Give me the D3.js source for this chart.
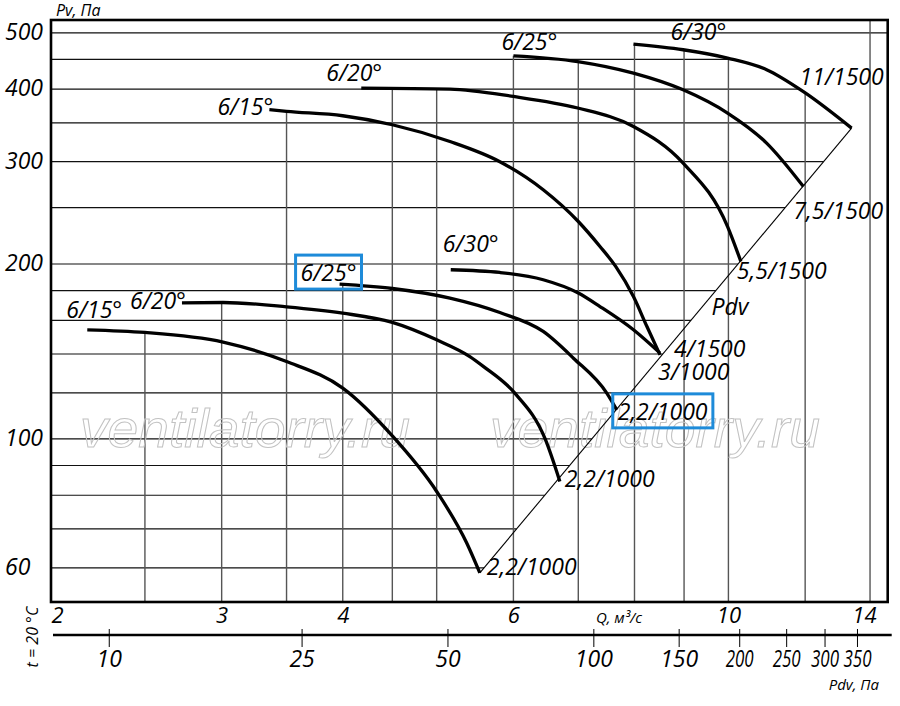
<!DOCTYPE html>
<html>
<head>
<meta charset="utf-8">
<script src="https://cdn.jsdelivr.net/npm/d3@7"></script>
<style>
  body { margin: 0; background: #fff; }
  text { font-family: "Open Sans", sans-serif; font-style: italic; fill: #000; }
</style>
</head>
<body>
<svg id="chart" width="900" height="706"></svg>
<script>
var width = 900,
    height = 706;

// axis ranges and ticks (Q in m3/s, Pv in Pa)
var qMin = 2, qMax = 14.6, pvMin = 52.4, pvMax = 526;
var qTicks = [2, 3, 4, 6, 10, 14];
var pvTicks = [500, 400, 300, 200, 100, 60];
var pdvTicks = [10, 25, 50, 100, 150, 200, 250, 300, 350];
var pdvK = 1.9; // Pdv = 1.9 * Q^2

// grid
var gridQ = [2.5, 3, 3.5, 4, 4.5, 5, 6, 7, 8, 9, 10, 12, 14];
var gridQTop = ["c15lo", "c20lo", "c15up", "c25lo", "c20up", "c20up", "c25up", "c25up", "c30up", "c30up", "c30up", "c30up", null];
var gridPv = [500, 450, 400, 350, 300, 250, 200, 180, 160, 140, 120, 100, 90, 80, 70, 60];

// fan curves, [Q, Pv]
var c15lo = [[2.18,154.1],[2.50,152.5],[3.01,146.8],[3.50,135.9],[4.00,122.3],[4.50,101.2],[5.00,81.2],[5.37,66.2],[5.54,58.8]];
var c20lo = [[2.73,171.5],[3.01,171.7],[3.50,168.8],[4.00,164.6],[4.50,158.7],[5.00,148.1],[5.41,138.6],[5.59,133.2],[6.02,119.9],[6.47,100.0],[6.70,84.5]];
var c25lo = [[3.97,184.7],[4.50,181.5],[5.16,174.7],[5.81,165.0],[6.44,153.1],[6.92,137.7],[7.49,119.9],[7.67,112.2]];
var c30lo = [[5.17,195.5],[5.81,193.4],[6.44,187.9],[7.00,178.3],[7.37,169.0],[7.98,154.1],[8.50,140.5]];
var c15up = [[3.36,368.6],[3.50,366.2],[4.00,359.9],[4.50,347.3],[5.16,325.0],[5.81,300.0],[6.44,268.4],[7.00,236.7],[7.37,214.4],[7.65,198.1],[7.98,175.8],[8.24,156.1],[8.50,139.5]];
var c20up = [[4.18,401.6],[5.16,400.0],[6.00,388.5],[6.99,371.1],[7.98,345.0],[8.98,298.4],[9.98,232.0],[10.30,202.0]];
var c25up = [[6.00,456.4],[6.99,446.2],[7.98,426.2],[8.98,398.9],[9.98,363.8],[10.95,323.0],[11.95,271.9]];
var c30up = [[7.98,478.1],[8.98,467.5],[9.98,452.3],[10.95,432.0],[11.95,396.0],[13.40,342.7]];

var curveIds = ["c15lo", "c20lo", "c25lo", "c30lo", "c15up", "c20up", "c25up", "c30up"];
var curvePts = [c15lo, c20lo, c25lo, c30lo, c15up, c20up, c25up, c30up];
var startLabels = ["6/15°", "6/20°", "6/25°", "6/30°", "6/15°", "6/20°", "6/25°", "6/30°"];
var endLabels = ["2,2/1000", "2,2/1000", "2,2/1000", "3/1000", "4/1500", "5,5/1500", "7,5/1500", "11/1500"];
var boxed = ["c25lo"];

// label offsets in px from the curve ends: [dx, dy, anchor]
var startLayout = {c15lo: [-21, -12, "start"], c20lo: [4, 6, "end"], c25lo: [-39, -3, "start"], c30lo: [-8, -18, "start"],
                   c15up: [4, 5, "end"], c20up: [-35, -7, "start"], c25up: [-12, -6, "start"], c30up: [37, -4, "start"]};
var endLayout = {c15lo: [7, 2], c20lo: [5, 6], c25lo: [1, 10], c30lo: [-2, 27],
                 c15up: [14, 2], c20up: [-4, 18], c25up: [-10, 32], c30up: [-52, -43]};

var x = d3.scaleLog().domain([qMin, qMax]).range([51, 887.7]);
var y = d3.scaleLog().domain([pvMin, pvMax]).range([602, 20]);
var xPdv = d3.scaleLog().domain([pdvK * qMin * qMin, pdvK * qMax * qMax]).range([51, 887.7]);

var curves = curveIds.map(function(id, i) {
  return {id: id, pts: curvePts[i], start: startLabels[i], end: endLabels[i]};
});
var curveById = {};
curves.forEach(function(c) { curveById[c.id] = c.pts; });

// Pdv line runs from the lowest curve end to the highest one
var diagA = c15lo[c15lo.length - 1],
    diagB = c30up[c30up.length - 1];

function pvAt(pts, q) {
  if (q <= pts[0][0]) return pts[0][1];
  for (var i = 0; i < pts.length - 1; i++) {
    if (q >= pts[i][0] && q <= pts[i + 1][0]) {
      var t = Math.log(q / pts[i][0]) / Math.log(pts[i + 1][0] / pts[i][0]);
      return pts[i][1] * Math.pow(pts[i + 1][1] / pts[i][1], t);
    }
  }
  return pts[pts.length - 1][1];
}

function qAtPv(pts, pv) {
  for (var i = 0; i < pts.length - 1; i++) {
    var a = pts[i][1], b = pts[i + 1][1];
    if ((pv <= a && pv >= b) || (pv >= a && pv <= b)) {
      var t = Math.log(pv / a) / Math.log(b / a);
      return pts[i][0] * Math.pow(pts[i + 1][0] / pts[i][0], t);
    }
  }
  return qMax;
}

function diagQ(pv) {
  var t = Math.log(pv / diagA[1]) / Math.log(diagB[1] / diagA[1]);
  return diagA[0] * Math.pow(diagB[0] / diagA[0], t);
}

function hEnd(pv) {
  if (pv <= diagB[1]) return diagQ(pv);
  if (pv <= c30up[0][1]) return qAtPv(c30up, pv);
  return qMax;
}

var svg = d3.select("#chart");

// grid
var grid = svg.append("g").attr("class", "grid");
grid.selectAll("line.h")
  .data(gridPv)
  .enter()
  .append("line")
  .attr("class", "h")
  .attr("x1", x(qMin))
  .attr("x2", function(d) { return x(hEnd(d)); })
  .attr("y1", function(d) { return y(d); })
  .attr("y2", function(d) { return y(d); })
  .attr("stroke", "#111")
  .attr("stroke-width", 1.2);
grid.selectAll("line.v")
  .data(gridQ)
  .enter()
  .append("line")
  .attr("class", "v")
  .attr("x1", function(d) { return x(d); })
  .attr("x2", function(d) { return x(d); })
  .attr("y1", function(d, i) { return y(gridQTop[i] ? pvAt(curveById[gridQTop[i]], d) : pvMax); })
  .attr("y2", y(pvMin))
  .attr("stroke", "#555")
  .attr("stroke-width", 1.4);

// watermark
svg.append("g").selectAll("text")
  .data([80, 490])
  .enter()
  .append("text")
  .attr("x", function(d) { return d; })
  .attr("y", 447)
  .attr("textLength", 330)
  .attr("lengthAdjust", "spacingAndGlyphs")
  .style("font-family", "Liberation Sans, sans-serif")
  .style("font-size", "53px")
  .style("fill", "none")
  .style("stroke", "#c2c2c2")
  .style("stroke-width", 1)
  .text("ventilatorry.ru");

// Pdv line
var line = d3.line()
  .x(function(d) { return x(d[0]); })
  .y(function(d) { return y(d[1]); });
svg.append("path")
  .attr("d", line([diagA, diagB]))
  .attr("fill", "none")
  .attr("stroke", "#000")
  .attr("stroke-width", 1.1);

// curves
var curveLine = d3.line()
  .x(function(d) { return x(d[0]); })
  .y(function(d) { return y(d[1]); })
  .curve(d3.curveMonotoneX);
svg.append("g").selectAll("path")
  .data(curves)
  .enter()
  .append("path")
  .attr("d", function(d) { return curveLine(d.pts); })
  .attr("fill", "none")
  .attr("stroke", "#000")
  .attr("stroke-width", 3.3);

// frame
svg.append("rect")
  .attr("x", x(qMin))
  .attr("y", y(pvMax))
  .attr("width", x(qMax) - x(qMin))
  .attr("height", y(pvMin) - y(pvMax))
  .attr("fill", "none")
  .attr("stroke", "#000")
  .attr("stroke-width", 2.6);

// curve labels
var labels = svg.append("g").style("font-size", "23px");
var boxTexts = [];
curves.forEach(function(c) {
  var s = c.pts[0], e = c.pts[c.pts.length - 1];
  var so = startLayout[c.id], eo = endLayout[c.id];
  var t1 = labels.append("text")
    .attr("x", x(s[0]) + so[0])
    .attr("y", y(s[1]) + so[1])
    .attr("text-anchor", so[2])
    .text(c.start);
  var t2 = labels.append("text")
    .attr("x", x(e[0]) + eo[0])
    .attr("y", y(e[1]) + eo[1])
    .text(c.end);
  if (boxed.indexOf(c.id) >= 0) { boxTexts.push(t1); boxTexts.push(t2); }
});

// Pdv label on the line
var tP = 0.58;
labels.append("text")
  .attr("x", x(diagA[0]) + tP * (x(diagB[0]) - x(diagA[0])) + 16)
  .attr("y", y(diagA[1]) + tP * (y(diagB[1]) - y(diagA[1])))
  .text("Pdv");

boxTexts.forEach(function(t) {
  var b = t.node().getBBox();
  svg.append("rect")
    .attr("x", b.x - 5)
    .attr("y", b.y - 1)
    .attr("width", b.width + 10)
    .attr("height", b.height + 2)
    .attr("fill", "none")
    .attr("stroke", "#1e8bd9")
    .attr("stroke-width", 3);
});

// left axis labels
var yAxis = svg.append("g")
  .attr("transform", "translate(" + x(qMin) + ",0)")
  .call(d3.axisLeft(y).tickValues(pvTicks).tickSize(0).tickFormat(d3.format("d")));
yAxis.select(".domain").remove();
yAxis.selectAll("text")
  .attr("x", -46)
  .attr("dy", "0.28em")
  .attr("text-anchor", "start")
  .style("font-family", "Open Sans, sans-serif")
  .style("font-size", "23px");

svg.append("text")
  .attr("x", 56)
  .attr("y", 16)
  .style("font-size", "16px")
  .text("Pv, Па");

// Q axis labels
var xAxis = svg.append("g")
  .attr("transform", "translate(0," + y(pvMin) + ")")
  .call(d3.axisBottom(x).tickValues(qTicks).tickSize(0).tickFormat(d3.format("d")));
xAxis.select(".domain").remove();
xAxis.selectAll("text")
  .attr("y", 21)
  .attr("dy", 0)
  .attr("text-anchor", function(d, i) { return i === 0 ? "start" : (i === qTicks.length - 1 ? "end" : "middle"); })
  .attr("x", function(d, i) { return i === qTicks.length - 1 ? 6 : 0; })
  .style("font-family", "Open Sans, sans-serif")
  .style("font-size", "22px");

svg.append("text")
  .attr("x", x(7.3))
  .attr("y", y(pvMin) + 21)
  .style("font-size", "15px")
  .text("Q, м³/с");

// Pdv axis
var pdvY = 635;
svg.append("line")
  .attr("x1", x(qMin) + 2)
  .attr("x2", x(qMax) + 4)
  .attr("y1", pdvY)
  .attr("y2", pdvY)
  .attr("stroke", "#000")
  .attr("stroke-width", 2.6);
var pAxis = svg.append("g")
  .attr("transform", "translate(0," + pdvY + ")")
  .call(d3.axisBottom(xPdv).tickValues(pdvTicks).tickSize(12).tickFormat(d3.format("d")));
pAxis.select(".domain").remove();
pAxis.selectAll(".tick line").attr("y1", -6).attr("stroke-width", 1);
pAxis.selectAll("text")
  .attr("y", 32)
  .attr("dy", 0)
  .attr("textLength", function(d) { return d >= 200 ? 28 : null; })
  .attr("lengthAdjust", "spacingAndGlyphs")
  .style("font-family", "Open Sans, sans-serif")
  .style("font-size", "23px");

svg.append("text")
  .attr("x", 879)
  .attr("y", 690)
  .attr("text-anchor", "end")
  .style("font-size", "15px")
  .text("Pdv, Па");

svg.append("text")
  .attr("transform", "translate(38,637) rotate(-90)")
  .attr("text-anchor", "middle")
  .style("font-size", "16px")
  .text("t = 20 °C");
</script>
</body>
</html>
